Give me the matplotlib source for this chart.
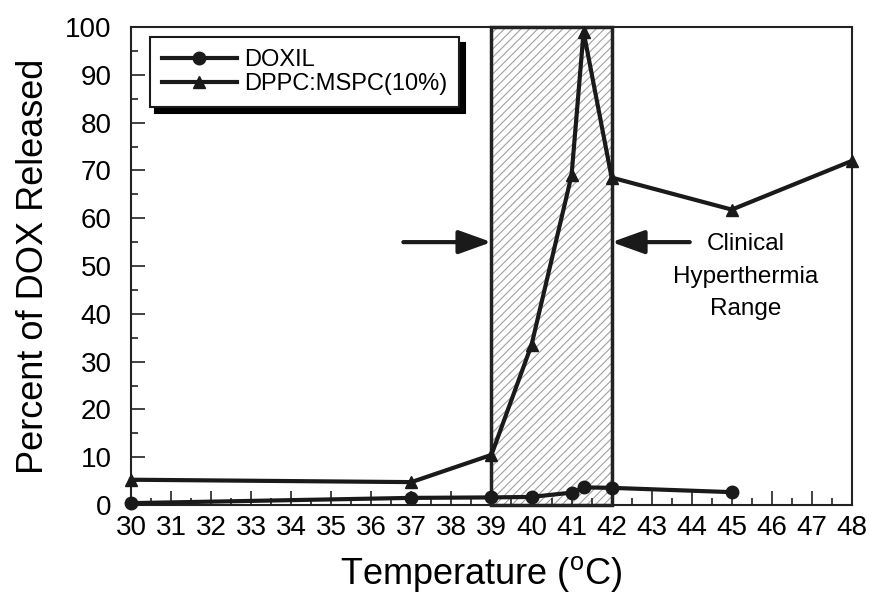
#! /usr/bin/env python3

import matplotlib
matplotlib.use('Agg')
import matplotlib.pyplot as plt
from matplotlib.patches import Rectangle
from matplotlib.ticker import MultipleLocator

# data
doxil_temp = [30, 37, 39, 40, 41, 41.3, 42, 45]
doxil_release = [0.4, 1.5, 1.6, 1.7, 2.6, 3.7, 3.6, 2.7]

dppc_temp = [30, 37, 39, 40, 41, 41.3, 42, 45, 48]
dppc_release = [5.3, 4.8, 10.5, 33.5, 69, 99, 68.5, 61.8, 72]

hyperthermia_range = (39, 42)
x_ticks = list(range(30, 49))
y_ticks = list(range(0, 101, 10))

plt.rcParams['font.family'] = ['Liberation Sans', 'DejaVu Sans']
plt.rcParams['mathtext.fontset'] = 'custom'
plt.rcParams['mathtext.rm'] = 'Liberation Sans'
plt.rcParams['hatch.linewidth'] = 0.8


def main():
    fig = plt.figure(figsize=(8.69, 5.97), dpi=100)
    ax = fig.add_axes([0.1507, 0.154, 0.8297, 0.8008])

    # shaded clinical hyperthermia range
    lo, hi = hyperthermia_range
    ax.add_patch(Rectangle((lo, 0), hi - lo, 100, facecolor='white', edgecolor='#a0a0a0',
                           hatch='////', linewidth=0, zorder=1))
    ax.add_patch(Rectangle((lo, 0), hi - lo, 100, fill=False, edgecolor='#222222',
                           linewidth=2.5, zorder=3, clip_on=False))

    ax.plot(doxil_temp, doxil_release, color='#1a1a1a', lw=3, marker='o', ms=9,
            label='DOXIL', zorder=4, clip_on=False)
    ax.plot(dppc_temp, dppc_release, color='#1a1a1a', lw=3, marker='^', ms=9,
            label='DPPC:MSPC(10%)', zorder=4, clip_on=False)

    ax.set_xlim(30, 48)
    ax.set_ylim(0, 100)
    ax.set_xticks(x_ticks)
    ax.set_yticks(y_ticks)
    ax.xaxis.set_minor_locator(MultipleLocator(0.5))
    ax.yaxis.set_minor_locator(MultipleLocator(5))
    ax.tick_params(which='both', direction='in', top=False, right=False, width=1.2, color='#222222')
    ax.tick_params(which='major', length=10, labelsize=20)
    ax.tick_params(which='major', axis='y', pad=14)
    ax.tick_params(which='major', axis='x', pad=7)
    ax.tick_params(which='minor', length=5)
    for spine in ax.spines.values():
        spine.set_linewidth(1.5)
        spine.set_color('#222222')

    ax.set_xlabel(r'Temperature ($^{\mathregular{o}}$C)', fontsize=26)
    ax.xaxis.set_label_coords(0.485, -0.102, transform=ax.transAxes)
    ax.set_ylabel('Percent of DOX Released', fontsize=26, labelpad=10)

    # arrows pointing at the range edges
    arrow = dict(arrowstyle='-|>,head_length=1.0,head_width=0.36', color='#1a1a1a', lw=3,
                 mutation_scale=20, shrinkA=0, shrinkB=0)
    ax.annotate('', xy=(lo, 55), xytext=(36.8, 55), arrowprops=arrow, zorder=5)
    ax.annotate('', xy=(hi, 55), xytext=(43.95, 55), arrowprops=arrow, zorder=5)
    ax.text(45.35, 47.8, 'Clinical\nHyperthermia\nRange', fontsize=17.5, ha='center', va='center',
            multialignment='center', linespacing=1.62)

    leg = ax.legend(loc='upper left', bbox_to_anchor=(0.026, 0.979), fontsize=17, frameon=True,
                    fancybox=False, shadow={'color': 'black', 'alpha': 1, 'ox': 4, 'oy': -4},
                    handlelength=3.2, labelspacing=0.1, borderpad=0.5, handletextpad=0.3,
                    borderaxespad=0)
    leg.get_frame().set_edgecolor('#1a1a1a')
    leg.get_frame().set_linewidth(1.5)

    fig.savefig('out.png', dpi=100)


if __name__ == '__main__':
    main()
